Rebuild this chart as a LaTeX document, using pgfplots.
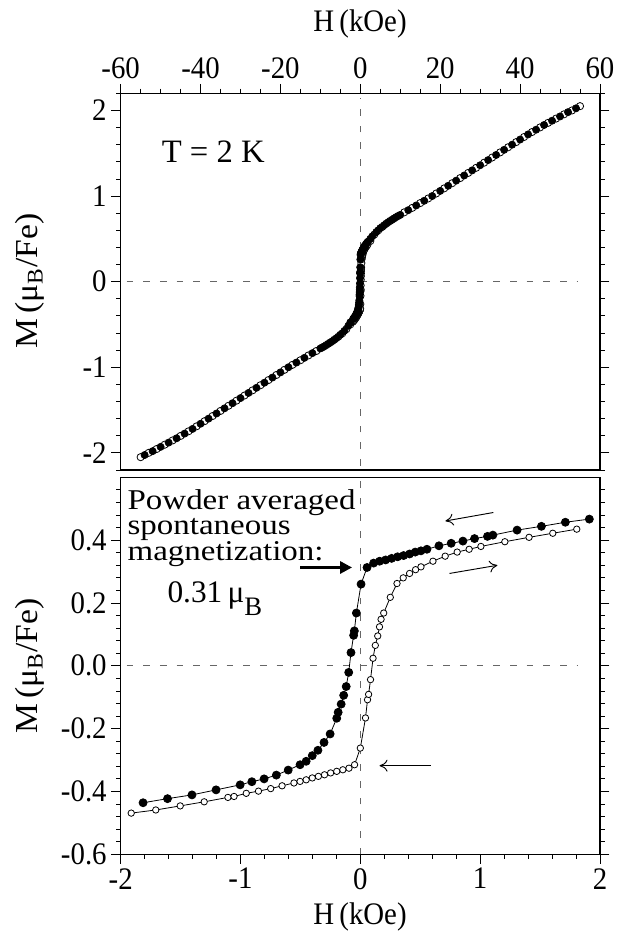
\documentclass[border=0pt]{standalone}
\usepackage{fontspec}
\setmainfont{Liberation Serif}
\newfontfamily\tickf{Liberation Serif}[FakeStretch=0.92]
\newfontfamily\ylabf{Liberation Serif}[FakeStretch=1.05]
\newfontfamily\annf{Liberation Serif}[FakeStretch=1.15]
\usepackage{pgfplots}
\usepackage{pgfplotstable}
\pgfplotsset{compat=1.18}
\usetikzlibrary{arrows.meta}

\pgfplotstableread{
H M
1.911 0.467
1.711 0.457
1.511 0.444
1.308 0.432
1.106 0.416
1.061 0.412
0.953 0.405
0.856 0.397
0.758 0.390
0.656 0.382
0.556 0.371
0.506 0.366
0.458 0.362
0.411 0.356
0.361 0.351
0.311 0.347
0.261 0.342
0.211 0.337
0.161 0.333
0.111 0.327
0.056 0.313
0.006 0.260
-0.033 0.168
-0.050 0.111
-0.056 0.097
-0.078 0.042
-0.097 -0.021
-0.118 -0.066
-0.139 -0.094
-0.160 -0.122
-0.185 -0.148
-0.197 -0.167
-0.252 -0.217
-0.303 -0.244
-0.354 -0.269
-0.401 -0.286
-0.452 -0.304
-0.503 -0.315
-0.602 -0.332
-0.701 -0.348
-0.803 -0.360
-0.905 -0.369
-1.003 -0.379
-1.204 -0.395
-1.405 -0.411
-1.609 -0.423
-1.813 -0.436
}\filledlow

\pgfplotstableread{
H M
-1.912 -0.469
-1.707 -0.459
-1.503 -0.446
-1.303 -0.433
-1.105 -0.419
-1.054 -0.416
-0.952 -0.406
-0.850 -0.399
-0.748 -0.391
-0.653 -0.382
-0.554 -0.373
-0.503 -0.368
-0.452 -0.363
-0.401 -0.357
-0.350 -0.352
-0.299 -0.347
-0.248 -0.341
-0.197 -0.336
-0.146 -0.331
-0.095 -0.326
-0.048 -0.315
0.000 -0.262
0.043 -0.166
0.060 -0.108
0.069 -0.091
0.085 -0.044
0.106 0.024
0.125 0.065
0.145 0.095
0.160 0.124
0.173 0.148
0.195 0.168
0.250 0.218
0.306 0.262
0.358 0.280
0.411 0.294
0.461 0.306
0.506 0.315
0.606 0.333
0.708 0.349
0.808 0.362
0.908 0.371
1.006 0.380
1.206 0.395
1.408 0.409
1.606 0.422
1.806 0.435
}\openlow

\pgfplotstableread{
H M
54 2.025
52 1.980
50 1.930
48 1.880
46 1.830
44 1.775
42 1.720
40 1.660
38 1.600
36 1.540
34 1.480
32 1.420
30 1.360
28 1.300
26 1.240
24 1.180
22 1.120
20 1.060
18 1.000
16 0.945
14 0.890
12 0.835
10 0.780
9 0.755
8 0.725
7 0.695
6 0.660
5 0.625
4 0.580
3 0.530
2.5 0.500
-2.5 -0.475
-3 -0.515
-4 -0.575
-5 -0.620
-6 -0.660
-7 -0.695
-8 -0.725
-9 -0.755
-10 -0.780
-12 -0.835
-14 -0.890
-16 -0.945
-18 -1.000
-20 -1.060
-22 -1.120
-24 -1.180
-26 -1.240
-28 -1.300
-30 -1.360
-32 -1.420
-34 -1.480
-36 -1.540
-38 -1.600
-40 -1.660
-42 -1.720
-44 -1.775
-46 -1.830
-48 -1.880
-50 -1.930
-52 -1.980
-54 -2.025
}\filledhigh

\pgfplotstableread{
H M
-55 -2.050
-53 -2.000
-51 -1.955
-49 -1.905
-47 -1.855
-45 -1.802
-43 -1.748
-41 -1.690
-39 -1.630
-37 -1.570
-35 -1.510
-33 -1.450
-31 -1.390
-29 -1.330
-27 -1.270
-25 -1.210
-23 -1.150
-21 -1.090
-19 -1.030
-17 -0.972
-15 -0.918
-13 -0.862
-11 -0.810
-9.5 -0.768
-8.5 -0.740
-7.5 -0.710
-6.5 -0.678
-5.5 -0.643
-4.5 -0.603
-3.5 -0.555
-2.5 -0.500
2.5 0.475
3.5 0.550
4.5 0.600
5.5 0.640
6.5 0.678
7.5 0.710
8.5 0.740
9.5 0.768
11 0.810
13 0.862
15 0.918
17 0.972
19 1.030
21 1.090
23 1.150
25 1.210
27 1.270
29 1.330
31 1.390
33 1.450
35 1.510
37 1.570
39 1.630
41 1.690
43 1.748
45 1.802
47 1.855
49 1.905
51 1.955
53 2.000
55 2.050
}\openhigh

\pgfplotsset{
  mystyle/.style={
    scale only axis, clip=false,
    tick align=outside,
    major tick length=7pt, minor tick length=3.5pt,
    every tick/.style={black, line width=0.6pt},
    axis line style={line width=0.8pt},
    tick label style={font=\tickf\fontsize{23.5}{23.5}\selectfont},
  },
  filledm/.style={only marks, mark=*, mark size=#1, mark options={fill=black, draw=black, line width=0.5pt}},
  openm/.style={only marks, mark=*, mark size=#1, mark options={fill=white, draw=black, line width=0.6pt}},
}

\begin{document}
\begin{tikzpicture}
\path[use as bounding box] (0,0) rectangle (478.5pt,700.5pt);

% ---------- top panel ----------
\begin{axis}[mystyle,
  at={(90.5pt,348pt)}, anchor=south west,
  width=359.5pt, height=282.5pt,
  xmin=-60, xmax=60, ymin=-2.2, ymax=2.2,
  xtick={-60,-40,-20,0,20,40,60},
  xticklabels={-60,-40,-20,0,20,40,60},
  minor x tick num=3,
  ytick={-2,-1,0,1,2},
  yticklabels={-2,-1,0,1,2},
  minor ytick={-2.2,-1.8,-1.6,-1.4,-1.2,-0.8,-0.6,-0.4,-0.2,0.2,0.4,0.6,0.8,1.2,1.4,1.6,1.8,2.2},
  xtick pos=right, xticklabel pos=right,
  ytick pos=both, yticklabel pos=left,
]
\draw[black!60, line width=0.7pt, dash pattern=on 5pt off 7.5pt] (axis cs:0,-2.15) -- (axis cs:0,2.15);
\draw[black!60, line width=0.7pt, dash pattern=on 5pt off 7.5pt] (axis cs:-58.5,0) -- (axis cs:54.5,0);
\addplot[openm=2.7pt] table[x=H,y=M] {\openhigh};
\addplot[openm=2.7pt] table[x=H,y=M] {\openlow};
\addplot[filledm=2.7pt] table[x=H,y=M] {\filledhigh};
\addplot[filledm=2.7pt] table[x=H,y=M] {\filledlow};
\node[anchor=base west, inner sep=0pt, font=\fontsize{24.5}{24.5}\selectfont] at (axis cs:-49.75,1.396) {T = 2 K};
\end{axis}

% ---------- bottom panel ----------
\begin{axis}[mystyle,
  at={(90.5pt,59.8pt)}, anchor=south west,
  width=359.5pt, height=282.7pt,
  xmin=-2, xmax=2, ymin=-0.6, ymax=0.6,
  xtick={-2,-1,0,1,2},
  xticklabels={-2,-1,0,1,2},
  minor x tick num=4,
  ytick={-0.6,-0.4,-0.2,0,0.2,0.4},
  yticklabels={-0.6,-0.4,-0.2,0.0,0.2,0.4},
  minor ytick={-0.56,-0.52,-0.48,-0.44,-0.36,-0.32,-0.28,-0.24,-0.16,-0.12,-0.08,-0.04,0.04,0.08,0.12,0.16,0.24,0.28,0.32,0.36,0.44,0.48,0.52,0.56},
  xtick pos=left, xticklabel pos=left,
  ytick pos=both, yticklabel pos=left,
]
\draw[black!60, line width=0.7pt, dash pattern=on 5pt off 7.5pt] (axis cs:0,-0.6) -- (axis cs:0,0.59);
\draw[black!60, line width=0.7pt, dash pattern=on 5pt off 7.5pt] (axis cs:-1.95,0) -- (axis cs:1.82,0);
\addplot[black, line width=0.6pt, mark=*, mark size=2.4pt, mark options={fill=white, draw=black, line width=0.6pt}] table[x=H,y=M] {\openlow};
\addplot[black, line width=0.6pt, mark=*, mark size=3pt, mark options={fill=black, draw=black}] table[x=H,y=M] {\filledlow};
\draw[-{To[length=6pt,width=9pt]}, line width=0.7pt] (axis cs:1.11,0.488) -- (axis cs:0.71,0.461);
\draw[-{To[length=6pt,width=9pt]}, line width=0.7pt] (axis cs:0.744,0.294) -- (axis cs:1.144,0.320);
\draw[-{To[length=6pt,width=9pt]}, line width=0.7pt] (axis cs:0.588,-0.318) -- (axis cs:0.16,-0.318);
\draw[-{Triangle[length=9pt,width=9pt]}, line width=2.2pt] (axis cs:-0.5,0.313) -- (axis cs:-0.069,0.313);
\node[anchor=north west, inner sep=0pt, align=left, font=\annf\fontsize{21.5}{19.3}\selectfont] at (axis cs:-1.944,0.563) {Powder averaged\\spontaneous\\magnetization:};
\node[anchor=base west, inner sep=0pt, font=\fontsize{23.5}{23.5}\selectfont] at (axis cs:-1.611,0.2017) {0.31\,μ\raisebox{-10pt}{\fontsize{20}{20}\selectfont B}};
\end{axis}

% ---------- axis labels ----------
\node[anchor=base] at (270pt,677pt) {\tickf\fontsize{23.5}{23.5}\selectfont H\,(kOe)};
\node[anchor=base] at (270pt,6.75pt) {\tickf\fontsize{23.5}{23.5}\selectfont H\,(kOe)};
\node[rotate=90] at (22.5pt,489.75pt) {\ylabf\fontsize{24}{24}\selectfont M\,(μ\textsubscript{B}/Fe)};
\node[rotate=90] at (22.5pt,201pt) {\ylabf\fontsize{24}{24}\selectfont M\,(μ\textsubscript{B}/Fe)};
\end{tikzpicture}
\end{document}
